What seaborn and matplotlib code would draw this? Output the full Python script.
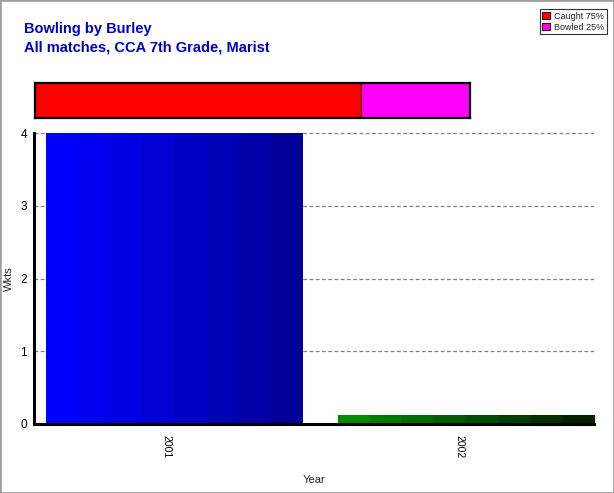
import numpy as np
import seaborn as sns
import matplotlib.pyplot as plt
from matplotlib.colors import LinearSegmentedColormap
from matplotlib.patches import Rectangle

years = ['2001', '2002']
wkts = [4, 0.12]
dismissals = ['Caught', 'Bowled']
dismissal_pct = [75, 25]
dismissal_colors = ['#ff0000', '#ff00ff']

W, H = 614, 493
sns.set_style('white')
plt.rcParams['font.family'] = ['Liberation Sans', 'DejaVu Sans']

fig = plt.figure(figsize=(W / 100, H / 100), dpi=100)
fig.patch.set_facecolor('white')

# main bar chart
ax = fig.add_axes([34 / W, (H - 424) / H, 560 / W, 291 / H])
sns.barplot(x=years, y=wkts, ax=ax, width=0.877, color='blue', edgecolor='none')
# bars sit a little right of their ticks in the original
for p in ax.patches:
    p.set_x(p.get_x() + 0.024)
ax.set_yticks([0, 1, 2, 3, 4])
ax.yaxis.grid(True, linestyle=(0, (3, 2)), color='#808080', linewidth=0.9)
ax.set_axisbelow(True)
for s in ['top', 'right']:
    ax.spines[s].set_visible(False)
ax.spines['left'].set_linewidth(2.2)
ax.spines['bottom'].set_linewidth(2.2)
ax.spines['left'].set_color('black')
ax.spines['bottom'].set_color('black')
ax.tick_params(axis='both', length=4, width=0.8, colors='#808080', labelcolor='black', labelsize=8.5, pad=1)
ax.tick_params(axis='x', labelrotation=-90, labelsize=7.5, pad=4)
ax.set_ylabel('Wkts', fontsize=8)
ax.yaxis.set_label_coords(-0.036, 0.5)
ax.set_xlabel('Year', fontsize=8, labelpad=12)

# vertical-strip gradient fills clipped to the bars
cmaps = [LinearSegmentedColormap.from_list('b', ['#0000ff', '#000098']),
         LinearSegmentedColormap.from_list('g', ['#008a00', '#002000'])]
grad = np.linspace(0, 1, 8).reshape(1, -1)
for patch, cm in zip(ax.patches, cmaps):
    x0, y0 = patch.get_x(), patch.get_y()
    w, h = patch.get_width(), patch.get_height()
    im = ax.imshow(grad, cmap=cm, aspect='auto', extent=[x0, x0 + w, y0, y0 + h],
                   interpolation='nearest', zorder=2)
    im.set_clip_path(patch)
ax.set_xlim(-0.455, 1.462)
ax.set_ylim(0, 4)

# stacked percentage strip
ax2 = fig.add_axes([35 / W, (H - 118) / H, 435 / W, 35 / H])
left = 0
for name, pct, c in zip(dismissals, dismissal_pct, dismissal_colors):
    ax2.barh([0], [pct], left=left, color=c, edgecolor='#400000', linewidth=0.8,
             height=1.0, label=f'{name} {pct}%')
    left += pct
ax2.set_xlim(0, 100)
ax2.set_ylim(-0.5, 0.5)
ax2.set_xticks([])
ax2.set_yticks([])
for s in ax2.spines.values():
    s.set_linewidth(1.6)
    s.set_color('black')

handles, labels = ax2.get_legend_handles_labels()
fig.legend(handles, labels, loc='upper right', bbox_to_anchor=(607 / W, 1 - 9 / H),
           fontsize=6.5, frameon=True, fancybox=False, edgecolor='black',
           handlelength=0.8, handleheight=0.8, handletextpad=0.5, borderpad=0.3,
           labelspacing=0.2, borderaxespad=0)
fig.legends[0].get_frame().set_linewidth(0.8)

fig.text(24 / W, 1 - 33 / H, 'Bowling by Burley', color='#0000c0', fontsize=10.5, fontweight='bold')
fig.text(24 / W, 1 - 51 / H, 'All matches, CCA 7th Grade, Marist', color='#0000c0', fontsize=10.5,
         fontweight='bold')

# window border on the right and bottom
fig.patches.append(Rectangle((0, 0), 1, 1, transform=fig.transFigure, fill=False,
                             edgecolor='#a0a0a0', linewidth=2, figure=fig))

fig.savefig('out.png', dpi=100)
